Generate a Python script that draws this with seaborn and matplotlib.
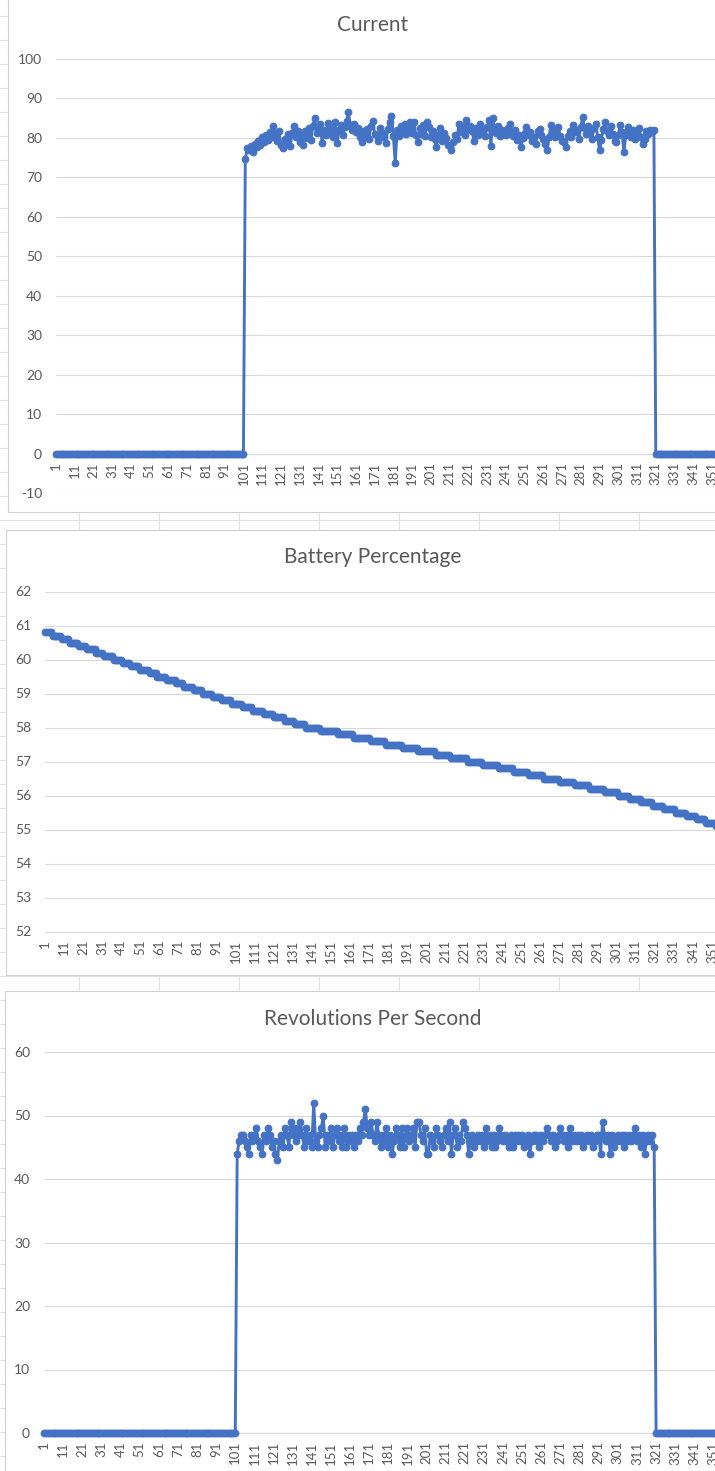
import numpy as np
import pandas as pd
import seaborn as sns
import matplotlib
matplotlib.use("Agg")
import matplotlib.pyplot as plt
from matplotlib.patches import Rectangle

# ---------------- data ----------------
n_points = 365
categories = list(range(1, n_points + 1))
x_tick_values = list(range(1, n_points + 1, 10))
x_tick_labels = [str(v) for v in x_tick_values]

current_off_start = [0.0] * 101
current_on = [
    74.7, 77.3, 76.8, 77.9, 76.4, 78.5, 77.6, 79.2, 78.1, 80.3,
    79.0, 80.6, 79.4, 81.5, 80.2, 82.9, 80.8, 79.3, 81.6, 78.2,
    77.3, 79.8, 78.4, 80.9, 77.8, 81.3, 82.9, 80.1, 81.7, 79.0,
    80.4, 78.1, 81.8, 80.0, 82.6, 79.4, 83.1, 84.9, 81.2, 82.3,
    83.4, 78.6, 82.0, 80.7, 83.8, 81.5, 82.4, 80.2, 84.1, 78.6,
    81.9, 83.3, 80.6, 82.8, 84.2, 86.5, 83.0, 82.1, 83.6, 81.4,
    82.5, 80.3, 78.9, 81.7, 80.5, 82.2, 79.6, 83.1, 84.2, 81.0,
    80.7, 79.3, 82.4, 81.1, 80.2, 78.6, 82.3, 84.0, 85.5, 80.4,
    73.6, 82.1, 80.5, 83.0, 81.2, 83.6, 80.9, 82.6, 84.0, 81.3,
    84.0, 80.6, 78.9, 82.5, 81.0, 83.2, 80.4, 84.0, 82.8, 80.2,
    81.7, 79.6, 77.6, 80.8, 82.4, 79.1, 81.3, 80.0, 78.2, 77.8,
    76.8, 78.9, 80.6, 79.8, 83.6, 81.4, 82.9, 80.7, 84.4, 82.3,
    83.1, 81.7, 79.3, 82.6, 80.8, 83.4, 81.9, 82.2, 80.5, 82.8,
    84.4, 78.0, 84.9, 82.3, 81.1, 83.0, 80.4, 82.1, 81.5, 80.7,
    82.4, 83.6, 81.2, 80.5, 82.1, 79.4, 80.8, 77.6, 79.9, 81.3,
    82.7, 80.6, 81.4, 79.2, 80.1, 78.5, 81.7, 82.3, 80.6, 79.8,
    78.4, 76.8, 80.2, 83.2, 81.5, 80.3, 82.1, 82.7, 80.4, 79.1,
    78.9, 77.6, 80.5, 81.8, 80.2, 83.2, 81.4, 82.1, 79.6, 82.8,
    85.3, 82.4, 80.9, 83.1, 81.7, 79.8, 82.6, 83.6, 80.2, 76.8,
    79.5, 82.3, 84.0, 81.6, 80.8, 82.9, 81.0, 79.2, 78.9, 80.7,
    83.2, 81.5, 76.3, 80.8, 82.7, 81.4, 80.2, 82.1, 79.6, 81.3,
    82.5, 80.1, 78.5, 79.7, 81.6, 80.9, 82.0, 81.4, 81.9,
]

battery_levels = [
    60.8, 60.7, 60.6, 60.5, 60.4, 60.3, 60.2, 60.1,
    60.0, 59.9, 59.8, 59.7, 59.6, 59.5, 59.4, 59.3, 59.2, 59.1,
    59.0, 58.9, 58.8,
    58.7, 58.6, 58.5, 58.4, 58.3, 58.2, 58.1,
    58.0, 57.9, 57.8, 57.7, 57.6, 57.5, 57.4, 57.3, 57.2, 57.1,
    57.0, 56.9, 56.8, 56.7, 56.6, 56.5, 56.4, 56.3, 56.2, 56.1,
    56.0, 55.9, 55.8, 55.7, 55.6, 55.5, 55.4, 55.3, 55.2,
    55.1, 55.0, 54.9,
]
battery_counts = [
    4, 5, 4, 5, 4, 5, 4, 5,
    5, 4, 5, 5, 4, 5, 5, 4, 5, 5,
    5, 5, 5,
    6, 5, 6, 5, 6, 5, 6,
    8, 9, 8, 9, 8, 9, 8, 9, 8, 9,
    8, 8, 8, 8, 8, 8, 8, 8, 8, 7,
    6, 6, 6, 6, 6, 6, 5, 5, 5,
    5, 5, 3,
]

rps_off_start = [0] * 101
rps_on = [
    44, 46, 47, 47, 46, 45, 44, 47, 46, 47,
    48, 46, 45, 44, 47, 46, 48, 47, 45, 46,
    44, 43, 46, 47, 45, 48, 47, 45, 49, 47,
    48, 46, 47, 49, 47, 45, 48, 46, 47, 45,
    52, 46, 45, 47, 48, 50, 45, 47, 46, 48,
    45, 47, 48, 46, 47, 45, 48, 45, 47, 46,
    47, 45, 47, 46, 48, 47, 49, 51, 48, 47,
    49, 47, 46, 49, 47, 45, 47, 46, 48, 45,
    47, 44, 46, 48, 47, 45, 48, 45, 47, 48,
    46, 47, 48, 45, 49, 49, 47, 46, 48, 44,
    44, 47, 46, 45, 48, 47, 46, 45, 47, 48,
    46, 49, 44, 47, 48, 45, 47, 46, 49, 48,
    47, 44, 46, 47, 45, 46, 47, 46, 47, 45,
    48, 46, 47, 45, 47, 45, 46, 48, 47, 46,
    47, 46, 45, 47, 45, 47, 46, 47, 46, 47,
    45, 46, 47, 44, 46, 47, 47, 46, 45, 47,
    46, 47, 48, 47, 46, 47, 45, 46, 47, 48,
    47, 46, 47, 45, 48, 46, 47, 46, 47, 46,
    47, 45, 46, 47, 46, 47, 45, 46, 47, 47,
    44, 49, 47, 46, 47, 44, 47, 45, 46, 47,
    46, 47, 45, 47, 46, 47, 46, 47, 48, 46,
    47, 45, 47, 44, 46, 47, 46, 47, 45,
]

current = current_off_start + current_on + [0.0] * (n_points - len(current_off_start) - len(current_on))
rps = rps_off_start + rps_on + [0] * (n_points - len(rps_off_start) - len(rps_on))
battery = list(np.repeat(battery_levels, battery_counts))

df = pd.DataFrame({"category": categories, "current": current,
                   "battery": battery, "rps": rps})

titles = ["Current", "Battery Percentage", "Revolutions Per Second"]

# ---------------- style ----------------
sns.set_theme(style="white")
plt.rcParams["font.family"] = ["Lato", "DejaVu Sans"]

BLUE = "#4472C4"
GRID = "#D9D9D9"
TXT = "#595959"
CELL = "#E1E1E1"

W, H = 715, 1471
fig = plt.figure(figsize=(W / 100, H / 100), dpi=100)
fig.patch.set_facecolor("white")

# spreadsheet background
bg = fig.add_axes([0, 0, 1, 1], zorder=-10)
bg.set_xlim(0, W)
bg.set_ylim(H, 0)
bg.axis("off")
for yy in range(16, H, 24):
    bg.plot([0, W], [yy, yy], color=CELL, lw=0.8, zorder=1)
for xx in range(79, W, 80):
    bg.plot([xx, xx], [0, H], color=CELL, lw=0.8, zorder=1)
for (x0, y0, y1) in [(8, -5, 512), (5.5, 530, 975), (5, 991, H + 10)]:
    bg.add_patch(Rectangle((x0, y0), W + 20 - x0, y1 - y0, facecolor="white",
                           edgecolor="#D0D0D0", lw=0.8, zorder=3))


def px_axes(left, top, right, bottom):
    return fig.add_axes([left / W, 1 - bottom / H, (right - left) / W, (bottom - top) / H])


specs = [
    # column, title, (left, top, right, bottom), ylim, yticks, xlim_right, title_y, spine_at
    ("current", titles[0], (56, 58.8, 715, 493.3), (-10, 100), range(-10, 101, 10), 352.6, 25, 0),
    ("battery", titles[1], (45, 591.5, 715, 931.5), (52, 62), range(52, 63, 1), 352.6, 557, 52),
    ("rps", titles[2], (44, 1052, 715, 1433), (0, 60), range(0, 61, 10), 351.8, 1019, 0),
]

for col, title, box, ylim, yticks, xr, ty, spine_at in specs:
    ax = px_axes(*box)
    ax.set_facecolor("none")
    sns.lineplot(data=df, x="category", y=col, ax=ax, color=BLUE, marker="o",
                 markersize=4.8, markeredgecolor=BLUE, markeredgewidth=0.8,
                 linewidth=2.1, errorbar=None, clip_on=False, zorder=5)
    ax.set_yticks(list(yticks))
    ax.set_yticklabels([str(v) for v in yticks])
    ax.set_xticks(x_tick_values)
    ax.set_xticklabels(x_tick_labels)
    ax.set_xlim(1, xr)
    ax.set_ylim(*ylim)
    ax.yaxis.grid(True, color=GRID, lw=0.8)
    ax.xaxis.grid(False)
    for s in ["left", "right", "top"]:
        ax.spines[s].set_visible(False)
    ax.spines["bottom"].set_position(("data", spine_at))
    ax.spines["bottom"].set_color(GRID)
    ax.spines["bottom"].set_linewidth(0.8)
    ax.tick_params(axis="both", length=0, colors=TXT)
    ax.tick_params(axis="y", labelsize=10, pad=10)
    ax.tick_params(axis="x", labelsize=9.5, pad=6, labelrotation=90)
    ax.set_xlabel("")
    ax.set_ylabel("")
    fig.text(373 / W, 1 - ty / H, title, ha="center", va="center",
             fontsize=15, color=TXT)

fig.savefig("out.png", dpi=100)
